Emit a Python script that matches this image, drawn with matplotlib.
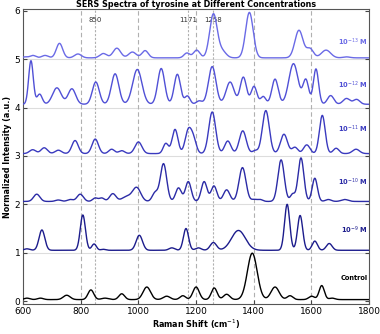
import numpy as np
import matplotlib.pyplot as plt

# peak tables: centre (cm-1), height above series offset, width (sigma)
labels = ["Control", "10$^{-9}$ M", "10$^{-10}$ M", "10$^{-11}$ M", "10$^{-12}$ M", "10$^{-13}$ M"]
offsets = [0, 1, 2, 3, 4, 5]
baselines = [0.03, 0.05, 0.06, 0.05, 0.07, 0.03]
colors = ["#000000", "#1c1c8c", "#2b2ba6", "#3a3abf", "#5050d6", "#6a6ae6"]

ctrl_c = [613, 660, 751, 835, 884, 942, 1029, 1098, 1154, 1200, 1263, 1306, 1395, 1474, 1526, 1601, 1636, 1672]
ctrl_h = [0.03, 0.03, 0.09, 0.2, 0.03, 0.12, 0.26, 0.07, 0.08, 0.26, 0.24, 0.11, 0.96, 0.26, 0.08, 0.07, 0.29, 0.03]
ctrl_w = [10, 10, 12, 10, 12, 10, 13, 12, 10, 11, 10, 11, 17, 14, 10, 10, 9, 10]

n9_c = [613, 665, 807, 846, 878, 1003, 1116, 1165, 1208, 1260, 1347, 1516, 1561, 1612, 1662]
n9_h = [0.03, 0.42, 0.73, 0.13, 0.02, 0.31, 0.05, 0.45, 0.05, 0.16, 0.41, 0.95, 0.72, 0.19, 0.14]
n9_w = [10, 10, 9, 8, 8, 11, 10, 9, 10, 11, 24, 9, 9, 9, 10]

n10_c = [647, 722, 763, 798, 850, 873, 911, 960, 994, 1058, 1087, 1139, 1173, 1228, 1262, 1306, 1361, 1401, 1422, 1495, 1535, 1564, 1612, 1659, 1716]
n10_h = [0.15, 0.03, 0.04, 0.15, 0.07, 0.07, 0.16, 0.1, 0.28, 0.18, 0.78, 0.28, 0.41, 0.41, 0.32, 0.24, 0.7, 0.04, 0.04, 0.86, 0.15, 0.9, 0.48, 0.04, 0.04]
n10_w = [11, 10, 10, 11, 9, 9, 11, 17, 14, 10, 11, 10, 10, 10, 10, 11, 12, 9, 9, 11, 8, 10, 9, 10, 12]

n11_c = [633, 673, 722, 780, 850, 907, 942, 1000, 1095, 1127, 1173, 1191, 1256, 1310, 1362, 1405, 1442, 1505, 1543, 1584, 1638, 1686, 1755]
n11_h = [0.08, 0.12, 0.07, 0.27, 0.3, 0.09, 0.06, 0.24, 0.21, 0.5, 0.47, 0.27, 0.86, 0.26, 0.47, 0.06, 0.89, 0.4, 0.13, 0.18, 0.79, 0.11, 0.09]
n11_w = [11, 11, 11, 11, 11, 10, 10, 12, 9, 10, 11, 10, 12, 11, 12, 9, 12, 12, 10, 11, 10, 10, 12]

n12_c = [627, 657, 717, 769, 852, 919, 996, 1079, 1135, 1170, 1211, 1256, 1318, 1364, 1401, 1433, 1474, 1538, 1581, 1616, 1667, 1722, 1757]
n12_h = [0.9, 0.21, 0.34, 0.32, 0.46, 0.63, 0.72, 0.74, 0.62, 0.17, 0.07, 0.78, 0.46, 0.56, 0.37, 0.16, 0.52, 0.84, 0.5, 0.73, 0.18, 0.12, 0.1]
n12_w = [8, 9, 15, 13, 12, 13, 16, 12, 11, 9, 10, 13, 14, 11, 10, 9, 11, 16, 10, 9, 11, 12, 11]

n13_c = [607, 634, 676, 726, 790, 878, 925, 979, 1023, 1168, 1202, 1260, 1290, 1385, 1557, 1595, 1651, 1722]
n13_h = [0.02, 0.05, 0.05, 0.3, 0.08, 0.09, 0.2, 0.12, 0.15, 0.1, 0.16, 0.9, 0.14, 0.94, 0.57, 0.19, 0.16, 0.02]
n13_w = [9, 10, 11, 11, 12, 12, 13, 13, 11, 10, 11, 13, 14, 13, 14, 12, 16, 12]

peaks = [(ctrl_c, ctrl_h, ctrl_w), (n9_c, n9_h, n9_w), (n10_c, n10_h, n10_w),
         (n11_c, n11_h, n11_w), (n12_c, n12_h, n12_w), (n13_c, n13_h, n13_w)]

ref_lines = [800, 850, 1000, 1171, 1200, 1258, 1400, 1600]
ref_marked = [850, 1171, 1258]
label_y = [0.48, 1.47, 2.46, 3.55, 4.47, 5.35]

x = np.linspace(600, 1800, 2401)

fig = plt.figure(figsize=(3.8, 3.34), dpi=100)
ax = fig.add_axes([0.061, 0.09, 0.91, 0.883])

for yv in [1, 2, 3, 4, 5]:
    ax.axhline(yv, color="#dddddd", lw=0.8, zorder=0)

for r in ref_lines:
    ls = (0, (2, 1.5)) if r in ref_marked else (0, (4, 2.5))
    ax.axvline(r, color="#b0b0b0", lw=0.8, ls=ls, zorder=1)

for r in ref_marked:
    ax.text(r, 5.82, str(r), ha="center", va="center", fontsize=5, color="#333333")

for i in range(len(labels)):
    c, h, w = peaks[i]
    y = np.full_like(x, offsets[i] + baselines[i])
    for cc, hh, ww in zip(c, h, w):
        y = y + hh * np.exp(-0.5 * ((x - cc) / ww) ** 2)
    ax.plot(x, y, color=colors[i], lw=1.0, zorder=3)
    ax.text(1795, label_y[i], labels[i], ha="right", va="center", fontsize=4.8,
            fontweight="bold", color=colors[i])

ax.set_xlim(600, 1800)
ax.set_ylim(-0.06, 6.04)
ax.set_xticks([600, 800, 1000, 1200, 1400, 1600, 1800])
ax.set_yticks([0, 1, 2, 3, 4, 5, 6])
ax.tick_params(labelsize=6.5, direction="in", length=3, right=True, color="#444444", pad=2)
for s in ax.spines.values():
    s.set_color("#555555")
    s.set_linewidth(0.8)
ax.set_xlabel("Raman Shift (cm$^{-1}$)", fontsize=5.8, fontweight="bold", labelpad=1)
ax.set_ylabel("Normalized Intensity (a.u.)", fontsize=5.8, fontweight="bold", labelpad=2)
ax.set_title("SERS Spectra of tyrosine at Different Concentrations", fontsize=5.8,
             fontweight="bold", pad=-1)

fig.savefig("out.png", dpi=100)
